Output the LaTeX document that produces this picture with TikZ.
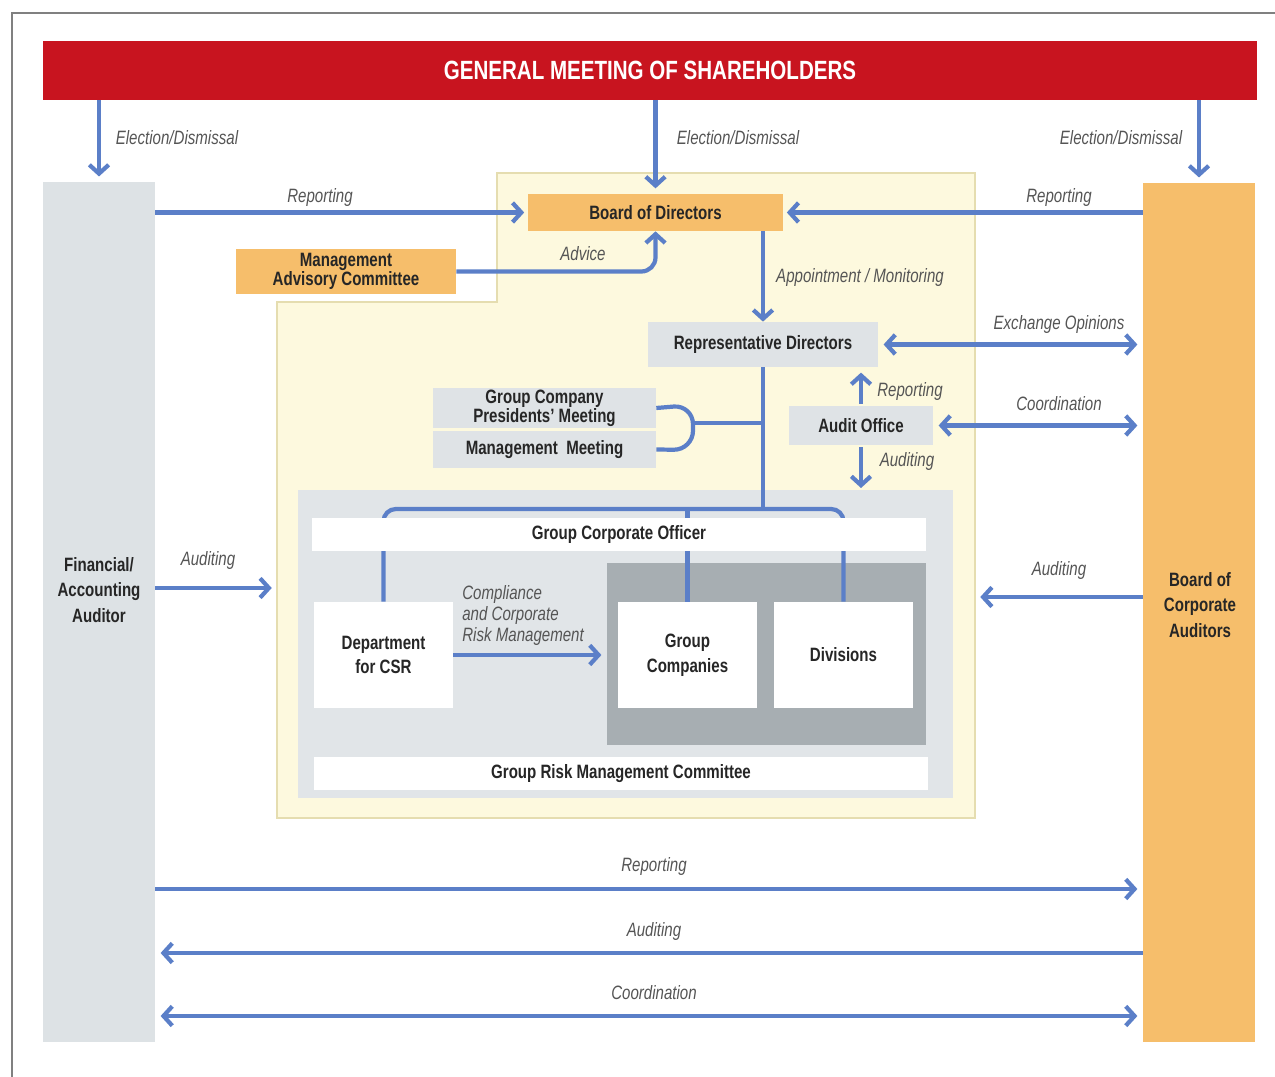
\documentclass[tikz,border=0pt]{standalone}
\usepackage{fontspec}
\setmainfont{Liberation Sans}[FakeStretch=0.78]
\usetikzlibrary{arrows.meta}

\definecolor{gmred}{HTML}{C8141F}
\definecolor{linkblue}{HTML}{5B7FC8}
\definecolor{boxorange}{HTML}{F6BE6B}
\definecolor{boxgray}{HTML}{DFE3E6}
\definecolor{colgray}{HTML}{DDE2E5}
\definecolor{panelgray}{HTML}{A7AEB2}
\definecolor{innergray}{HTML}{E1E5E8}
\definecolor{cream}{HTML}{FDF9DE}
\definecolor{creamedge}{HTML}{E5DDB0}
\definecolor{txtdark}{HTML}{262626}
\definecolor{lblgray}{HTML}{555555}

\begin{document}
\begin{tikzpicture}[x=0.02cm,y=-0.02cm,
  box/.style={rectangle, inner sep=0pt, align=center, text=txtdark,
    font=\bfseries\fontsize{11}{11}\selectfont},
  colbox/.style={box, font=\bfseries\fontsize{11}{14.5}\selectfont},
  lbl/.style={inner sep=0pt, text=lblgray, font=\itshape\fontsize{11}{12}\selectfont},
  link/.style={draw=linkblue, line width=2.4pt},
  flow/.style={link, -{Straight Barb[length=5pt,width=11pt]}},
  both/.style={link, {Straight Barb[length=5pt,width=11pt]}-{Straight Barb[length=5pt,width=11pt]}}]
  \useasboundingbox (0,0) rectangle (1275,1077);
  \draw[gray, line width=1pt] (12,1077) -- (12,13) -- (1275,13);

  % shareholders and the two side columns
  \node[box, fill=gmred, text=white, font=\bfseries\fontsize{15}{18}\selectfont,
    minimum width=24.28cm, minimum height=1.18cm] (gms) at (650,70.5) {GENERAL MEETING OF SHAREHOLDERS};
  \node[box, fill=colgray, minimum width=2.24cm, minimum height=17.2cm] (fin) at (99,612) {};
  \node[colbox] (fintext) at (99,590) {Financial/\\Accounting\\Auditor};
  \node[box, fill=boxorange, minimum width=2.24cm, minimum height=17.18cm] (bca) at (1199,612.5) {};
  \node[colbox] (bcatext) at (1200,605) {Board of\\Corporate\\Auditors};

  % company area
  \fill[cream, draw=creamedge, line width=0.8pt] (497,173) -- (975,173) -- (975,818) -- (277,818)
    -- (277,302) -- (497,302) -- cycle;
  \coordinate (yl) at (277,588);
  \coordinate (yr) at (975,597);

  \node[box, fill=boxorange, minimum width=5.1cm, minimum height=0.74cm] (bod) at (655.5,212.5) {Board of Directors};
  \node[box, fill=boxorange, minimum width=4.4cm, minimum height=0.9cm] (mac) at (346,271.5) {Management\\Advisory Committee};
  \node[box, fill=boxgray, minimum width=4.6cm, minimum height=0.9cm] (rd) at (763,344.5) {Representative Directors};
  \node[box, fill=boxgray, minimum width=2.88cm, minimum height=0.78cm] (ao) at (861,425.5) {Audit Office};
  \node[box, fill=boxgray, minimum width=4.46cm, minimum height=0.8cm] (gcpm) at (544.5,408) {Group Company\\Presidents' Meeting};
  \node[box, fill=boxgray, minimum width=4.46cm, minimum height=0.74cm] (mm) at (544.5,449.5) {Management\ \ Meeting};
  \coordinate (aud) at (861,488);

  % group area
  \fill[innergray] (298,490) rectangle (953,798);
  \node[rectangle, fill=panelgray, minimum width=6.38cm, minimum height=3.64cm] (grp) at (766.5,654) {};
  \node[box, fill=white, minimum width=2.78cm, minimum height=2.12cm] (csr) at (383.5,655) {Department\\[3pt]for CSR};
  \node[box, fill=white, minimum width=2.78cm, minimum height=2.12cm] (gc) at (687.5,655) {Group\\[3pt]Companies};
  \node[box, fill=white, minimum width=2.78cm, minimum height=2.12cm] (div) at (843.5,655) {Divisions};
  \draw[link, rounded corners=7pt] (csr.north) -- (csr.north |- 0,509) -- (div.north |- 0,509) -- (div.north);
  \draw[link] (gc.north) -- (gc.north |- 0,509);
  \draw[link] (rd.south) -- (rd.south |- 0,509);
  \node[box, fill=white, minimum width=12.28cm, minimum height=0.66cm] (gco) at (619,534.5) {Group Corporate Officer};
  \node[box, fill=white, minimum width=12.28cm, minimum height=0.66cm] (grmc) at (621,773.5) {Group Risk Management Committee};

  % connectors
  \draw[flow, shorten >=3pt] (gms.south -| fin) -- (fin.north);
  \draw[flow, shorten >=3pt] (gms.south -| bod) -- (bod.north);
  \draw[flow, shorten >=3pt] (gms.south -| bca) -- (bca.north);
  \draw[flow, shorten >=2pt] (fin.east |- bod) -- (bod.west);
  \draw[flow, shorten >=2pt] (bca.west |- bod) -- (bod.east);
  \draw[flow, rounded corners=8pt] (mac.east) -| (bod.south);
  \draw[flow] (bod.south -| rd.north) -- (rd.north);
  \draw[both, shorten <=3pt, shorten >=3pt] (rd.east) -- (bca.west |- rd.east);
  \draw[flow, shorten <=1pt, shorten >=3pt] (ao.north) -- (ao.north |- rd.south);
  \draw[flow, shorten <=1pt] (ao.south) -- (aud);
  \draw[both, shorten <=3pt, shorten >=3pt] (ao.east) -- (bca.west |- ao.east);
  \draw[link, rounded corners=11pt] (gcpm.east) -- (693,405) -- (693,450) -- (mm.east);
  \draw[link] (693,423) -- (rd.south |- 0,423);
  \draw[flow, shorten >=3pt] (csr.east) -- (grp.west |- csr.east);
  \draw[flow, shorten >=3pt] (fin.east |- yl) -- (yl);
  \draw[flow, shorten >=3pt] (bca.west |- yr) -- (yr);
  \draw[flow, shorten >=3pt] (fin.east |- 0,889) -- (bca.west |- 0,889);
  \draw[flow, shorten >=3pt] (bca.west |- 0,953) -- (fin.east |- 0,953);
  \draw[both, shorten <=3pt, shorten >=3pt] (fin.east |- 0,1016) -- (bca.west |- 0,1016);

  % labels
  \node[lbl] (lelec1) at (177,138) {Election/Dismissal};
  \node[lbl] (lelec2) at (738,138) {Election/Dismissal};
  \node[lbl] (lelec3) at (1121,138) {Election/Dismissal};
  \node[lbl] (lrep1) at (320,198) {Reporting};
  \node[lbl] (lrep2) at (1059,198) {Reporting};
  \node[lbl] (ladv) at (583,254) {Advice};
  \node[lbl] (lapp) at (860,278) {Appointment / Monitoring};
  \node[lbl] (lexch) at (1059,325) {Exchange Opinions};
  \node[lbl] (lrep3) at (910,392) {Reporting};
  \node[lbl] (lcoo1) at (1059,404) {Coordination};
  \node[lbl] (laud1) at (907,462) {Auditing};
  \node[lbl] (laud2) at (208,561) {Auditing};
  \node[lbl] (laud3) at (1059,571) {Auditing};
  \node[lbl, align=left, anchor=north west, font=\itshape\fontsize{11}{12}\selectfont] (lcomp) at (462,585) {Compliance\\and Corporate\\Risk Management};
  \node[lbl] (lrep4) at (654,867) {Reporting};
  \node[lbl] (laud4) at (654,932) {Auditing};
  \node[lbl] (lcoo2) at (654,993) {Coordination};
\end{tikzpicture}
\end{document}
